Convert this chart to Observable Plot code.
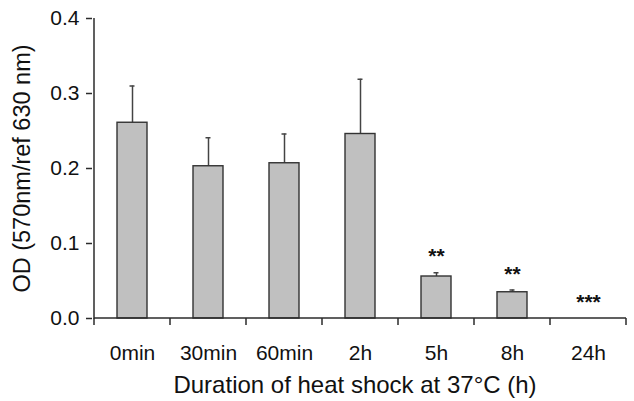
<!DOCTYPE html>
<html>
<head>
<meta charset="utf-8">
<script src="https://cdn.jsdelivr.net/npm/d3@7"></script>
<script src="https://cdn.jsdelivr.net/npm/@observablehq/plot@0.6"></script>
<style>
  html, body { margin: 0; padding: 0; background: #fff; }
  svg { display: block; }
</style>
</head>
<body>
<div id="chart"></div>
<script>
const categories = ["0min", "30min", "60min", "2h", "5h", "8h", "24h"];
const means = [0.261, 0.203, 0.207, 0.246, 0.056, 0.035, 0];
const errors = [0.049, 0.038, 0.039, 0.073, 0.005, 0.003, 0];
const stars = ["", "", "", "", "**", "**", "***"];
const yTicks = [0, 0.1, 0.2, 0.3, 0.4];
const xTitle = "Duration of heat shock at 37°C (h)";
const yTitle = "OD (570nm/ref 630 nm)";

const data = categories.map((c, i) => ({cat: c, mean: means[i], err: errors[i], star: stars[i]}));
const font = "'Liberation Sans', Arial, Helvetica, sans-serif";
const ink = "#2b2b2b";

// axis lines + boundary ticks drawn through the scales
function axisFrame(index, scales, values, dim) {
  const x = scales.x, y = scales.y;
  const step = x.step(), bw = x.bandwidth();
  const half = (step - bw) / 2;
  const bounds = categories.map(c => x(c) - half);
  bounds.push(x(categories[categories.length - 1]) + bw + half);
  const g = d3.create("svg:g").attr("stroke", ink).attr("stroke-width", 1.5).attr("fill", "none");
  const y0 = y(0), yTop = y(yTicks[yTicks.length - 1]);
  g.append("line").attr("x1", bounds[0]).attr("x2", bounds[0]).attr("y1", yTop).attr("y2", y0 + 0.75);
  g.append("line").attr("x1", bounds[0]).attr("x2", bounds[bounds.length - 1]).attr("y1", y0).attr("y2", y0);
  for (const b of bounds) {
    g.append("line").attr("x1", b).attr("x2", b).attr("y1", y0).attr("y2", y0 + 7);
  }
  return g.node();
}

const plot = Plot.plot({
  width: 634,
  height: 401,
  marginLeft: 92,
  marginRight: 5,
  marginTop: 18,
  marginBottom: 83,
  style: {fontFamily: font, fontSize: "21px", color: "#111", background: "#fff"},
  x: {domain: categories, paddingInner: 0.6, paddingOuter: 0.3, label: null},
  y: {domain: [0, 0.4], label: null},
  marks: [
    Plot.axisY({ticks: yTicks, tickFormat: d3.format(".1f"), tickSize: 6, tickPadding: 7, stroke: ink, strokeWidth: 1.5, fontSize: 21, label: null}),
    Plot.axisX({tickSize: 0, tickPadding: 27, fontSize: 21, label: null}),
    Plot.ruleX(data.filter(d => d.err > 0), {x: "cat", y1: "mean", y2: d => d.mean + d.err, stroke: "#444", strokeWidth: 1.5}),
    Plot.tickY(data.filter(d => d.err > 0), {x: "cat", y: d => d.mean + d.err, stroke: "#444", strokeWidth: 1.5, insetLeft: 12.5, insetRight: 12.5}),
    Plot.barY(data.filter(d => d.mean > 0), {x: "cat", y: "mean", fill: "#c0c0c0", stroke: "#333", strokeWidth: 1.4}),
    Plot.text(data.filter(d => d.star), {x: "cat", y: d => d.mean + d.err, text: "star", dy: -16, fontSize: 21, fontWeight: "bold", fill: "#111"}),
    axisFrame,
    Plot.text([xTitle], {frameAnchor: "bottom", textAnchor: "middle", dx: -6, dy: 74, fontSize: 24, fill: "#111"}),
    Plot.text([yTitle], {frameAnchor: "left", textAnchor: "middle", rotate: -90, dx: -70, fontSize: 23.5, fill: "#111"})
  ]
});
document.getElementById("chart").appendChild(plot);
</script>
</body>
</html>
